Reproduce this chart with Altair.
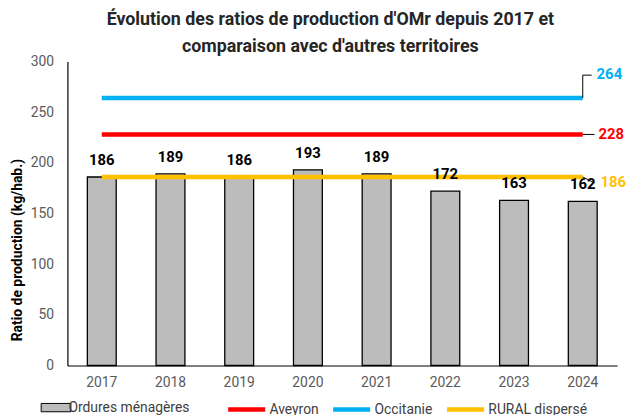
import altair as alt
import pandas as pd

years = ["2017", "2018", "2019", "2020", "2021", "2022", "2023", "2024"]
omr = [186, 189, 186, 193, 189, 172, 163, 162]
bar_name = "Ordures ménagères"
ref_names = ["Aveyron", "Occitanie", "RURAL dispersé"]
ref_values = [228, 264, 186]
ref_colors = ["#ff0000", "#00b0f0", "#ffc000"]
y_ticks = [0, 50, 100, 150, 200, 250, 300]

FONT = "Roboto, sans-serif"

bars_df = pd.DataFrame({"annee": years, "ratio": omr, "serie": bar_name})
ref_df = pd.DataFrame({"annee": years[0], "fin": years[-1], "ratio": ref_values, "nom": ref_names})

X = alt.X("annee:N", scale=alt.Scale(domain=years, paddingInner=0.58, paddingOuter=0.29),
          axis=alt.Axis(title=None, labelAngle=0, labelFont=FONT, labelFontSize=14, labelColor="#595959",
                        labelPadding=10, ticks=False, domainColor="#000000", domainWidth=1.2))
Y = alt.Y("ratio:Q", scale=alt.Scale(domain=[0, 300]),
          axis=alt.Axis(title="Ratio de production (kg/hab.)", values=y_ticks, grid=False, ticks=False,
                        labelFont=FONT, labelFontSize=14, labelColor="#595959", labelPadding=14,
                        domainColor="#000000", domainWidth=1.2,
                        titleFont=FONT, titleFontSize=14, titleFontWeight="bold", titleColor="#000000",
                        titleX=-50, titleY=190, titleBaseline="middle", titleAlign="center", titleAngle=-90))

legend_common = dict(title=None, labelFont=FONT, labelFontSize=14, labelColor="#404040", labelOffset=2,
                     labelLimit=300)

bars = alt.Chart(bars_df).mark_bar(stroke="#000000", strokeWidth=1.3).encode(
    x=X, y=Y,
    fill=alt.Fill("serie:N", scale=alt.Scale(domain=[bar_name], range=["#bcbcbc"]),
                  legend=alt.Legend(orient="none", legendX=-22, legendY=339,
                                    symbolType="M-1.5,-0.42H1.5V0.42H-1.5Z", symbolSize=400,
                                    symbolStrokeColor="#000000", symbolStrokeWidth=1, **legend_common)),
)

bar_labels = alt.Chart(bars_df).mark_text(font=FONT, fontSize=15, fontWeight="bold", color="#000000",
                                          baseline="alphabetic", dy=-12).encode(
    x=X, y=Y, text=alt.Text("ratio:Q"))

ref_lines = alt.Chart(ref_df).mark_rule(strokeWidth=4.5).encode(
    x=X, x2=alt.X2("fin:N"), y=Y,
    stroke=alt.Stroke("nom:N", scale=alt.Scale(domain=ref_names, range=ref_colors),
                      legend=alt.Legend(orient="none", legendX=160, legendY=330.5, direction="horizontal",
                                        symbolType="stroke", symbolSize=1400,
                                        symbolStrokeWidth=4.5, columnPadding=5, **legend_common)),
)

# label placement offsets (styling only)
label_style = {"Occitanie": (14, -24), "Aveyron": (16, 0), "RURAL dispersé": (18, 5)}
layers = [bars, ref_lines, bar_labels]
for name, color in zip(ref_names, ref_colors):
    dx, dy = label_style[name]
    base = alt.Chart(ref_df).transform_filter(alt.datum.nom == name)
    layers.append(base.mark_text(font=FONT, fontSize=15, fontWeight="bold", color=color, align="left",
                                 baseline="middle", dx=dx, dy=dy).encode(
        x=alt.X("fin:N", scale=alt.Scale(domain=years)), y=Y, text=alt.Text("ratio:Q")))
    if name == "Occitanie":
        layers.append(base.mark_rule(color="#000000", strokeWidth=1, y2Offset=-23).encode(
            x=alt.X("fin:N"), y=Y, y2=alt.Y2("ratio:Q")))
        layers.append(base.mark_rule(color="#000000", strokeWidth=1, yOffset=-23, x2Offset=9).encode(
            x=alt.X("fin:N"), x2=alt.X2("fin:N"), y=Y))
    elif name == "Aveyron":
        layers.append(base.mark_rule(color="#000000", strokeWidth=1, x2Offset=12).encode(
            x=alt.X("fin:N"), x2=alt.X2("fin:N"), y=Y))
    else:
        layers.append(base.mark_rule(color="#000000", strokeWidth=1, x2Offset=12, y2Offset=6).encode(
            x=alt.X("fin:N"), x2=alt.X2("fin:N"), y=Y, y2=alt.Y2("ratio:Q")))

chart = alt.layer(*layers).properties(
    width=555, height=307,
    autosize=alt.AutoSizeParams(type="none"),
    padding={"left": 60, "top": 52, "right": 10, "bottom": 48},
    title=alt.Title(["Évolution des ratios de production d'OMr depuis 2017 et",
                     "comparaison avec d'autres territoires"],
                    font=FONT, fontSize=18, fontWeight="bold", color="#262626",
                    anchor="middle", dx=-12, lineHeight=27, offset=-1),
).configure_view(stroke=None).resolve_scale(x="shared")

chart.save("out.html", embed_options={"renderer": "svg", "actions": False})
